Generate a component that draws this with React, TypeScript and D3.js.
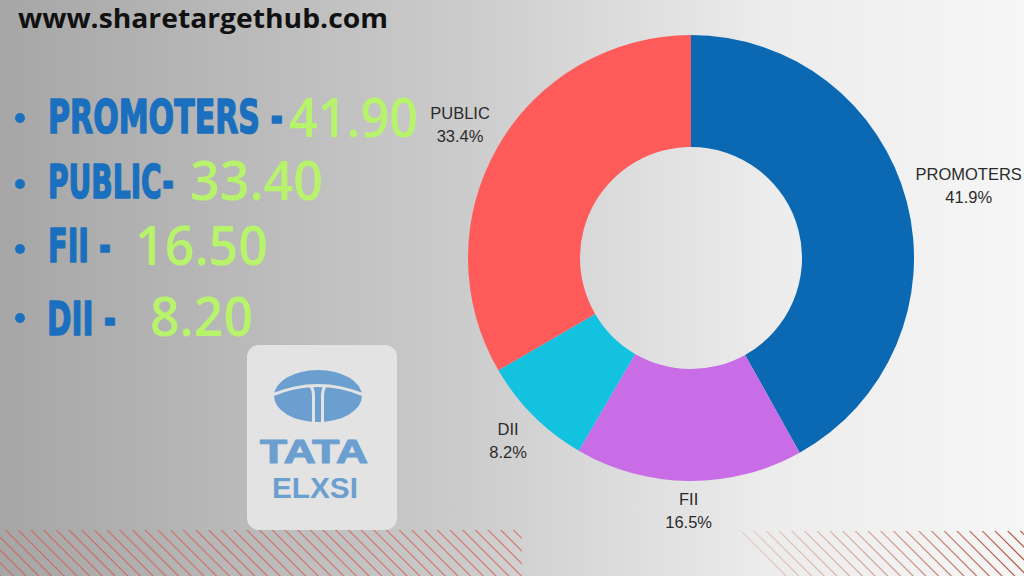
import React from 'react';
import * as d3 from 'd3';

// ---- data ----
const categories = ['PROMOTERS', 'FII', 'DII', 'PUBLIC'];
const values = [41.9, 16.5, 8.2, 33.4];
const sliceColors = ['#0b69b4', '#c86de6', '#13c2df', '#ff5b5b'];

const bulletLabels = ['PROMOTERS -', 'PUBLIC-', 'FII -', 'DII -'];
const bulletValues = ['41.90', '33.40', '16.50', '8.20'];

const siteTitle = 'www.sharetargethub.com';
const logoWords = ['TATA', 'ELXSI'];

// ---- layout ----
const W = 1024;
const H = 576;
const cx = 691;
const cy = 258;
const outerR = 223;
const innerR = 111;

const bulletLayout = [
  { dotY: 118, lx: 48, lw: 235, lBase: 133, vx: 289, vw: 129, vBase: 137 },
  { dotY: 184, lx: 48, lw: 126, lBase: 198, vx: 190, vw: 133, vBase: 200 },
  { dotY: 249, lx: 48, lw: 63, lBase: 262, vx: 135, vw: 133, vBase: 265 },
  { dotY: 318, lx: 47, lw: 69, lBase: 335, vx: 150, vw: 103, vBase: 336 },
];

const labelFamily = '"Liberation Sans", Arial, sans-serif';
const labelSize = 16.5;
const bulletFamily = '"DejaVu Sans", sans-serif';
const valueFamily = '"Open Sans", sans-serif';

let ctx: CanvasRenderingContext2D | null = null;
function measure(txt: string, font: string): number {
  try {
    if (!ctx) ctx = document.createElement('canvas').getContext('2d');
    if (!ctx) return txt.length * 8.5;
    ctx.font = font;
    return ctx.measureText(txt).width;
  } catch (e) {
    return txt.length * 8.5;
  }
}

type FitProps = {
  x: number;
  y: number;
  width: number;
  text: string;
  family: string;
  weight: number;
  size: number;
  fill: string;
  stroke?: number;
};

function FitText({ x, y, width, text, family, weight, size, fill, stroke }: FitProps) {
  const natural = measure(text, `${weight} ${size}px ${family}`);
  const k = natural > 0 ? width / natural : 1;
  return (
    <text
      transform={`translate(${x},${y}) scale(${k},1)`}
      fontFamily={family}
      fontWeight={weight}
      fontSize={size}
      fill={fill}
      stroke={stroke ? fill : 'none'}
      strokeWidth={stroke || 0}
      strokeLinejoin="round"
    >
      {text}
    </text>
  );
}

export default function App() {
  const pie = d3
    .pie<number>()
    .sort(null)
    .startAngle(0)
    .endAngle(2 * Math.PI)
    .value((d) => d);
  const arcs = pie(values);
  const arcGen = d3.arc<d3.PieArcDatum<number>>().innerRadius(innerR).outerRadius(outerR);
  const total = d3.sum(values);
  const fmt = d3.format('.1f');

  const hatchStep = 12.7;
  const leftLines = d3.range(-60, 540, hatchStep);
  const rightLines = d3.range(700, 1080, hatchStep);

  return (
    <div style={{ position: 'fixed', left: 0, top: 0, width: W, height: H }}>
      <svg width={W} height={H} style={{ display: 'block' }}>
        <defs>
          <linearGradient id="bg" x1="0" y1="0" x2="1" y2="0">
            <stop offset="0" stopColor="#a6a6a6" />
            <stop offset="0.45" stopColor="#cbcbcb" />
            <stop offset="0.75" stopColor="#ececec" />
            <stop offset="1" stopColor="#f6f6f6" />
          </linearGradient>
          <linearGradient id="hatchR" gradientUnits="userSpaceOnUse" x1="735" y1="0" x2="1024" y2="0">
            <stop offset="0" stopColor="#d9a79a" stopOpacity="0.4" />
            <stop offset="1" stopColor="#b4543e" stopOpacity="1" />
          </linearGradient>
          <clipPath id="clipL">
            <rect x={0} y={530} width={522} height={46} />
          </clipPath>
          <clipPath id="clipR">
            <polygon points="735,531 1024,531 1024,576 780,576" />
          </clipPath>
        </defs>
        <rect x={0} y={0} width={W} height={H} fill="url(#bg)" />

        {/* hatching */}
        <g clipPath="url(#clipL)" stroke="#d7574a" strokeOpacity={0.7} strokeWidth={1.2}>
          {leftLines.map((x, i) => (
            <line key={i} x1={x} y1={528} x2={x + 50} y2={578} />
          ))}
        </g>
        <g clipPath="url(#clipR)" stroke="url(#hatchR)" strokeWidth={1.2}>
          {rightLines.map((x, i) => (
            <line key={i} x1={x} y1={528} x2={x + 50} y2={578} />
          ))}
        </g>

        {/* title */}
        <FitText
          x={18}
          y={28}
          width={370}
          text={siteTitle}
          family={valueFamily}
          weight={700}
          size={26}
          fill="#111"
        />

        {/* bullets */}
        {bulletLabels.map((lab, i) => {
          const L = bulletLayout[i];
          return (
            <g key={lab}>
              <circle cx={20} cy={L.dotY} r={5} fill="#1a6fbe" />
              <FitText
                x={L.lx}
                y={L.lBase}
                width={L.lw}
                text={lab}
                family={bulletFamily}
                weight={700}
                size={46}
                fill="#1a6fbe"
                stroke={1.6}
              />
              <FitText
                x={L.vx}
                y={L.vBase}
                width={L.vw}
                text={bulletValues[i]}
                family={valueFamily}
                weight={600}
                size={54}
                fill="#b7f46c"
              />
            </g>
          );
        })}

        {/* logo */}
        <g>
          <rect x={247} y={345} width={150} height={185} rx={12} fill="#e3e3e3" />
          <ellipse cx={318} cy={396} rx={44} ry={26} fill="#6b9fcf" />
          <path d="M272,395 Q318,376 364,395" fill="none" stroke="#e3e3e3" strokeWidth={3} />
          <path
            d="M311,386 Q313.5,390 313.5,396 L313.5,424 M325,386 Q322.5,390 322.5,396 L322.5,424"
            fill="none"
            stroke="#e3e3e3"
            strokeWidth={3}
          />
          <FitText
            x={260}
            y={463}
            width={108}
            text={logoWords[0]}
            family='"Liberation Sans", Arial, sans-serif'
            weight={700}
            size={34}
            fill="#6b9fcf"
            stroke={1.2}
          />
          <FitText
            x={272}
            y={498}
            width={86}
            text={logoWords[1]}
            family='"Liberation Sans", Arial, sans-serif'
            weight={700}
            size={30}
            fill="#6b9fcf"
          />
        </g>

        {/* donut */}
        <g transform={`translate(${cx},${cy})`}>
          {arcs.map((a, i) => (
            <path key={categories[i]} d={arcGen(a) || ''} fill={sliceColors[i]} />
          ))}
        </g>

        {/* donut labels */}
        {arcs.map((a, i) => {
          const mid = (a.startAngle + a.endAngle) / 2;
          const sx = Math.sin(mid);
          const sy = -Math.cos(mid);
          const pct = fmt((values[i] / total) * 100) + '%';
          const font = `${labelSize}px ${labelFamily}`;
          const w = Math.max(measure(categories[i], font), measure(pct, font));
          const h = 42;
          const fx = Math.abs(sx) > 1e-6 ? w / 2 / Math.abs(sx) : Infinity;
          const fy = Math.abs(sy) > 1e-6 ? h / 2 / Math.abs(sy) : Infinity;
          const dist = outerR + 9 + Math.min(fx, fy);
          const tx = cx + dist * sx;
          const ty = cy + dist * sy;
          return (
            <text
              key={categories[i]}
              textAnchor="middle"
              fontFamily={labelFamily}
              fontSize={labelSize}
              fill="#2b2b2b"
            >
              <tspan x={tx} y={ty - 6}>
                {categories[i]}
              </tspan>
              <tspan x={tx} y={ty + 17}>
                {pct}
              </tspan>
            </text>
          );
        })}
      </svg>
    </div>
  );
}
